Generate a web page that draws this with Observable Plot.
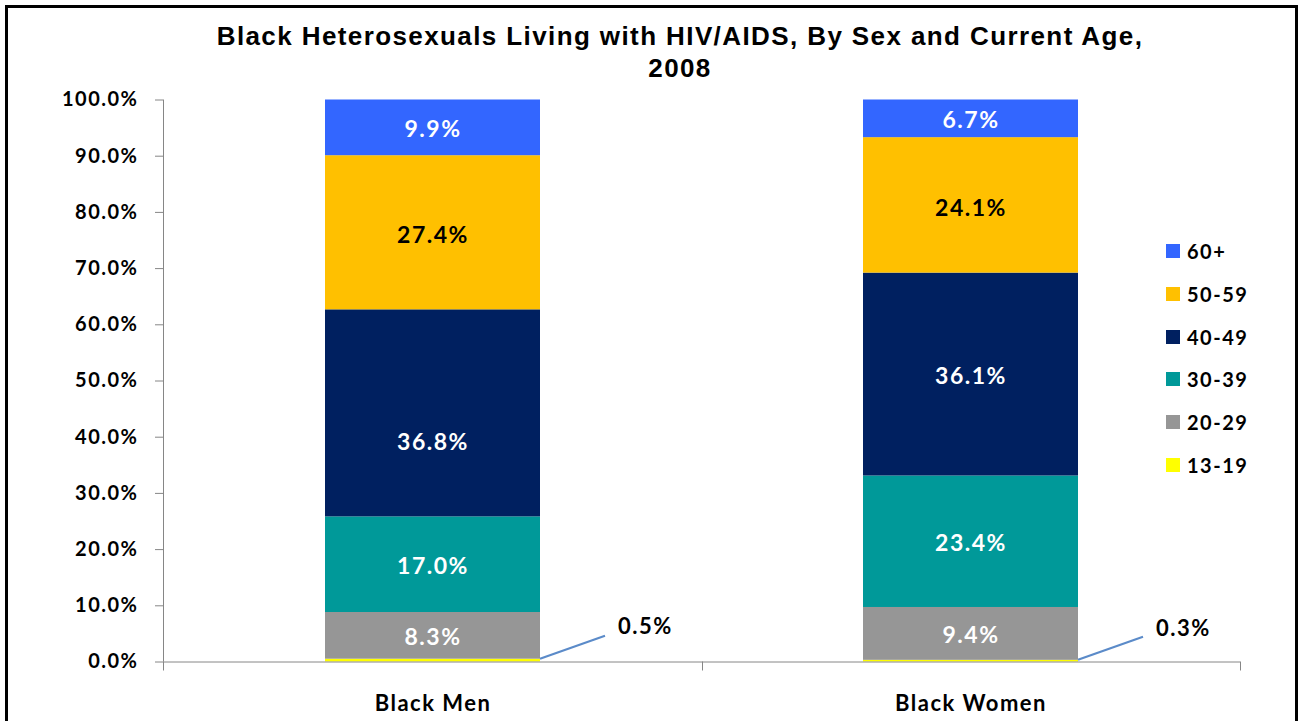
<!DOCTYPE html>
<html>
<head>
<meta charset="utf-8">
<script src="https://cdn.jsdelivr.net/npm/d3@7"></script>
<script src="https://cdn.jsdelivr.net/npm/@observablehq/plot@0.6"></script>
<style>
  body { margin: 0; background: #fff; }
  #wrap { position: relative; width: 1303px; height: 721px; overflow: hidden; background: #fff; }
  #border { position: absolute; left: 5px; top: 5px; width: 1287px; height: 740px; border: 3px solid #000; box-sizing: content-box; }
  #title { position: absolute; left: 80px; width: 1200px; top: 20px; text-align: center;
           font: bold 26px "Liberation Sans", Arial, sans-serif; letter-spacing: 1.4px; line-height: 32px; color: #000; }
  #chart { position: absolute; left: 0; top: 0; }
  #legend { position: absolute; left: 1166px; top: 230px; font: bold 20px Lato, sans-serif; letter-spacing: 1.5px; color: #000; }
  .li { position: absolute; left: 0; height: 20px; white-space: nowrap; }
  .sw { position: absolute; left: 0; top: 3px; width: 14px; height: 14px; }
  .lt { position: absolute; left: 21px; top: -2px; line-height: 24px; }
</style>
</head>
<body>
<div id="wrap">
  <div id="border"></div>
  <div id="title">Black Heterosexuals Living with HIV/AIDS, By Sex and Current Age,<br>2008</div>
  <div id="chart"></div>
  <div id="legend"></div>
</div>
<script>
const categories = ["Black Men", "Black Women"];
const ageGroups = ["13-19", "20-29", "30-39", "40-49", "50-59", "60+"];
const menValues = [0.5, 8.3, 17.0, 36.8, 27.4, 9.9];
const womenValues = [0.3, 9.4, 23.4, 36.1, 24.1, 6.7];
const ageColors = ["#FFFF00", "#969696", "#009999", "#002060", "#FFC000", "#3366FF"];
const yTicks = [0, 0.1, 0.2, 0.3, 0.4, 0.5, 0.6, 0.7, 0.8, 0.9, 1.0];

const seriesBySex = {"Black Men": menValues, "Black Women": womenValues};
const data = [];
for (const sex of categories) {
  seriesBySex[sex].forEach((v, i) => data.push({sex, age: ageGroups[i], value: v}));
}
const fmt = v => v.toFixed(1) + "%";
const paddingInner = 0.6, paddingOuter = 0.3;
const W = 1303, H = 721;
const mL = 163, mR = 63, mT = 99.5, mB = 59.5;
const axisColor = "#868686";

function bandWidthOf(x) {
  if (typeof x.bandwidth === "function") return x.bandwidth();
  if (typeof x.bandwidth === "number") return x.bandwidth;
  const step = x(categories[1]) - x(categories[0]);
  return step * (1 - paddingInner);
}

// axis lines and category boundary ticks
function axesLines(index, scales, values, dimensions) {
  const {x, y} = scales;
  const {width, marginLeft, marginRight} = dimensions;
  const bw = bandWidthOf(x);
  const g = d3.create("svg:g").attr("stroke", axisColor).attr("fill", "none");
  const y0 = y(0), y1 = y(1);
  g.append("line").attr("x1", marginLeft + 0.5).attr("x2", marginLeft + 0.5).attr("y1", y1).attr("y2", y0);
  g.append("line").attr("x1", marginLeft).attr("x2", width - marginRight).attr("y1", y0 + 0.5).attr("y2", y0 + 0.5);
  const bounds = [marginLeft];
  for (let i = 0; i < categories.length - 1; i++) {
    bounds.push((x(categories[i]) + bw + x(categories[i + 1])) / 2);
  }
  bounds.push(width - marginRight);
  for (const b of bounds) {
    g.append("line").attr("x1", Math.round(b) + 0.5).attr("x2", Math.round(b) + 0.5).attr("y1", y0).attr("y2", y0 + 9);
  }
  return g.node();
}

// leader lines + labels for the tiny 13-19 segments
function smallLabels(index, scales, values, dimensions) {
  const {x, y} = scales;
  const bw = bandWidthOf(x);
  const g = d3.create("svg:g");
  for (const sex of categories) {
    const vals = seriesBySex[sex];
    const total = d3.sum(vals);
    const v = vals[0];
    const sx = x(sex) + bw, sy = y(v / total);
    const ex = sx + 65, ey = sy - 23;
    g.append("line").attr("x1", sx).attr("y1", sy).attr("x2", ex).attr("y2", ey)
      .attr("stroke", "#5B8BC9").attr("stroke-width", 2.2);
    g.append("text").attr("x", ex + 13).attr("y", ey - 9).attr("dy", "0.35em")
      .attr("text-anchor", "start").attr("fill", "#000").attr("font-size", 22).text(fmt(v));
  }
  return g.node();
}

const stackOpts = {offset: "normalize", x: "sex", y: "value"};
const isMoved = d => d.sex === "Black Men" && d.age === "40-49";

const plot = Plot.plot({
  width: W, height: H,
  marginLeft: mL, marginRight: mR, marginTop: mT, marginBottom: mB,
  style: {fontFamily: "Lato, sans-serif", fontWeight: "bold", fontSize: "20px", letterSpacing: "1.5px", color: "#000", background: "transparent"},
  x: {type: "band", domain: categories, paddingInner, paddingOuter, axis: null},
  y: {domain: [0, 1], axis: null},
  color: {domain: ageGroups, range: ageColors},
  marks: [
    Plot.barY(data, Plot.stackY({...stackOpts, fill: "age"})),
    Plot.text(data, Plot.stackY({...stackOpts,
      text: d => (d.value >= 1 && d.age !== "50-59" && !isMoved(d)) ? fmt(d.value) : null,
      fill: "white", fontSize: 23, dy: 2})),
    Plot.text(data, Plot.stackY({...stackOpts,
      text: d => isMoved(d) ? fmt(d.value) : null,
      fill: "white", fontSize: 23, dy: 29})),
    Plot.text(data, Plot.stackY({...stackOpts,
      text: d => d.age === "50-59" ? fmt(d.value) : null,
      fill: "black", fontSize: 23, dy: 3})),
    Plot.axisY({ticks: yTicks, tickSize: 8, tickPadding: 17, stroke: axisColor, fill: "black",
      tickFormat: d => (d * 100).toFixed(1) + "%", fontSize: 20, label: null, style: {letterSpacing: "2.3px"}}),
    Plot.axisX({tickSize: 0, tickPadding: 33, fill: "black", fontSize: 22, label: null}),
    axesLines,
    smallLabels
  ]
});
document.getElementById("chart").appendChild(plot);

// legend (top: 60+ ... bottom: 13-19)
const legend = d3.select("#legend");
const order = ageGroups.map((a, i) => ({a, c: ageColors[i]})).reverse();
order.forEach((d, i) => {
  const row = legend.append("div").attr("class", "li").style("top", (11 + i * 42.8) + "px");
  row.append("div").attr("class", "sw").style("background", d.c);
  row.append("div").attr("class", "lt").text(d.a);
});
</script>
</body>
</html>
